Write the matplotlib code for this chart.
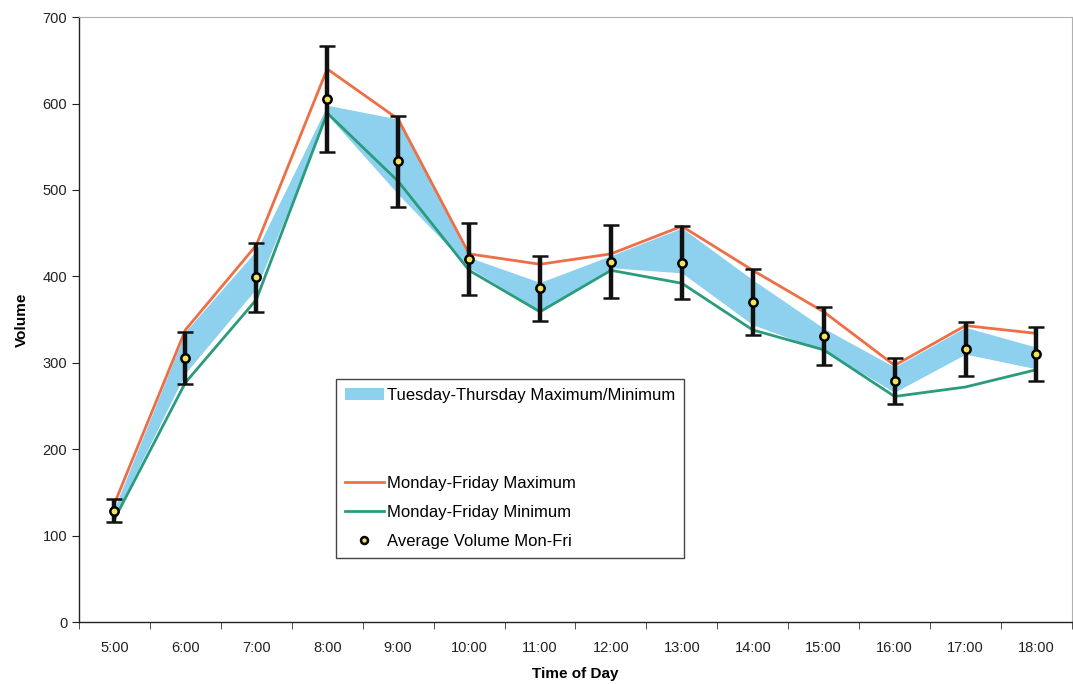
#!/usr/bin/env python3
"""
Hourly traffic volume - Monday-Friday max/min lines, Tuesday-Thursday band and average with error bars.
"""

import matplotlib
matplotlib.use("Agg")
import matplotlib.pyplot as plt
from matplotlib.lines import Line2D
from matplotlib.patches import Patch
import numpy as np

# Data
HOURS = ["5:00", "6:00", "7:00", "8:00", "9:00", "10:00", "11:00",
         "12:00", "13:00", "14:00", "15:00", "16:00", "17:00", "18:00"]
MONFRI_MAX = [137, 338, 436, 640, 582, 426, 414, 426, 458, 407, 359, 297, 343, 334]
MONFRI_MIN = [119, 277, 373, 589, 510, 407, 359, 407, 392, 338, 315, 261, 272, 292]
TUETHU_MAX = [132, 336, 430, 598, 582, 422, 393, 424, 456, 396, 340, 295, 341, 318]
TUETHU_MIN = [122, 288, 386, 587, 495, 410, 360, 410, 404, 344, 314, 266, 310, 293]
AVERAGE = [129, 306, 399, 605, 533, 420, 386, 417, 416, 370, 331, 279, 316, 310]
AVG_ERR = [13, 30, 40, 61, 53, 42, 38, 42, 42, 38, 33, 27, 31, 31]

# Appearance
ORANGE = "#EE6F45"
GREEN = "#2A9C7E"
BAND = "#8ED1EE"
MARKER_FACE = "#F2E45A"
FONT = ["Liberation Sans", "DejaVu Sans"]


def main():
    plt.rcParams["font.family"] = FONT
    fig = plt.figure(figsize=(10.73, 6.84), dpi=100)
    ax = fig.add_axes([0.0736, 0.0906, 0.9254, 0.8844])

    x = np.arange(len(HOURS))

    ax.fill_between(x, TUETHU_MIN, TUETHU_MAX, color=BAND, linewidth=0, zorder=1)
    ax.plot(x, MONFRI_MAX, color=ORANGE, linewidth=2, zorder=2)
    ax.plot(x, MONFRI_MIN, color=GREEN, linewidth=2, zorder=2)
    ax.errorbar(x, AVERAGE, yerr=AVG_ERR, fmt="o", color="black",
                ecolor="#111111", elinewidth=3.2, capsize=6, capthick=3,
                markersize=6, markerfacecolor=MARKER_FACE,
                markeredgecolor="black", markeredgewidth=1.8, zorder=3)

    ax.set_xlim(-0.5, 13.4)
    ax.set_ylim(0, 700)
    ax.set_yticks(range(0, 701, 100))
    ax.set_xticks(x)
    ax.set_xticklabels(HOURS)
    ax.set_xticks(np.arange(-0.5, 13.6, 1), minor=True)
    ax.tick_params(axis="x", which="major", length=0, pad=14, labelsize=10.5,
                   colors="#222222")
    ax.tick_params(axis="x", which="minor", length=5, direction="out",
                   color="#333333")
    ax.tick_params(axis="y", length=5, direction="out", labelsize=10.5,
                   colors="#222222")

    for side in ("top", "right"):
        ax.spines[side].set_color("#B0B0B0")
        ax.spines[side].set_linewidth(0.8)
    for side in ("left", "bottom"):
        ax.spines[side].set_color("#222222")
        ax.spines[side].set_linewidth(1.0)

    ax.set_xlabel("Time of Day", fontsize=11, fontweight="bold",
                  family=["Liberation Sans Narrow", "Liberation Sans"], labelpad=8)
    ax.set_ylabel("Volume", fontsize=11, fontweight="bold",
                  family=["Liberation Sans Narrow", "Liberation Sans"], labelpad=10)

    blank = Line2D([], [], linestyle="none")
    handles = [
        Patch(facecolor=BAND, edgecolor="none"),
        blank, blank,
        Line2D([], [], color=ORANGE, linewidth=2),
        Line2D([], [], color=GREEN, linewidth=2),
        Line2D([], [], linestyle="none", marker="o", markersize=5,
               markerfacecolor=MARKER_FACE, markeredgecolor="black",
               markeredgewidth=1.8),
    ]
    labels = ["Tuesday-Thursday Maximum/Minimum", " ", " ",
              "Monday-Friday Maximum", "Monday-Friday Minimum",
              "Average Volume Mon-Fri"]
    leg = ax.legend(handles, labels, loc="upper left",
                    bbox_to_anchor=(0.259, 0.402), fontsize=12,
                    frameon=True, fancybox=False, framealpha=1,
                    edgecolor="#444444", borderpad=0.55, labelspacing=0.85,
                    handlelength=2.3, handletextpad=0.2, borderaxespad=0)
    leg.get_frame().set_linewidth(1.0)

    fig.savefig("out.png", dpi=100)


if __name__ == "__main__":
    main()
